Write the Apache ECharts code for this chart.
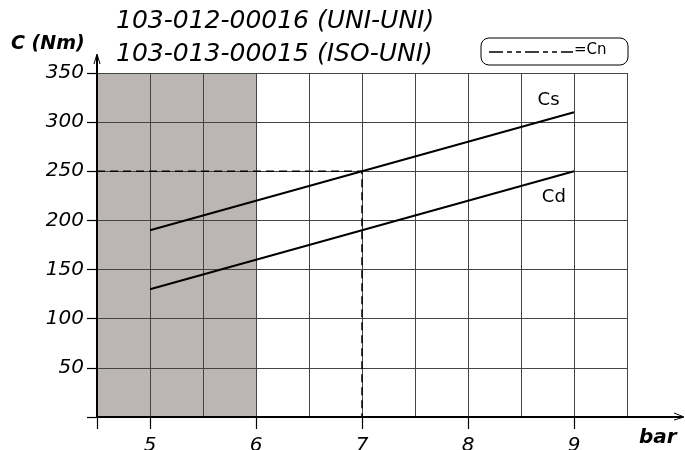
<!DOCTYPE html>
<html><head><meta charset="utf-8">
<script src="https://cdn.jsdelivr.net/npm/echarts@6/dist/echarts.min.js"></script>
<style>html,body{margin:0;padding:0;background:#fff}#c{width:685px;height:450px}</style>
</head><body><div id="c"></div>
<script>
const titleLines = ['103-012-00016 (UNI-UNI)', '103-013-00015 (ISO-UNI)'];
const pressure = [5, 9];
const cs = [190, 310];
const cd = [130, 250];
const cnLine = [[4.5, 250], [7, 250], [7, 0]];
const shadeRange = [4.5, 6];
const shadeTop = 350;
const xTickLabels = [5, 6, 7, 8, 9];
const yTickLabels = [50, 100, 150, 200, 250, 300, 350];
const csLabelAt = [8.76, 322];
const cdLabelAt = [8.81, 224];

const FONT = '"DejaVu Sans", "Liberation Sans", sans-serif';
const chart = echarts.init(document.getElementById('c'));
const opt = {
  animation: false,
  backgroundColor: '#fff',
  grid: {left: 97, right: 58, top: 73, bottom: 33, outerBoundsMode: 'none', containLabel: false},
  xAxis: [{
    type: 'value', min: 4.5, max: 9.5, interval: 0.5, zlevel: 1, z: 5, position: 'bottom',
    axisLine: {show: true, onZero: false, lineStyle: {color: '#000', width: 2}},
    axisTick: {show: false},
    axisLabel: {show: false},
    splitLine: {show: true, lineStyle: {color: '#444', width: 1}}
  }, {
    type: 'value', min: 4.5, max: 9.5, interval: 0.5, zlevel: 1, z: 5, position: 'bottom', offset: 0,
    axisLine: {show: false, onZero: false},
    axisTick: {show: true, length: 12, customValues: [4.5].concat(xTickLabels), lineStyle: {color: '#000', width: 1.2}},
    axisLabel: {customValues: xTickLabels, fontFamily: FONT, fontStyle: 'italic', fontSize: 20, color: '#000', margin: 19},
    splitLine: {show: false}
  }],
  yAxis: {
    type: 'value', min: 0, max: 350, interval: 50, zlevel: 1, z: 5,
    axisLine: {show: true, lineStyle: {color: '#000', width: 2}},
    axisTick: {show: true, length: 10, lineStyle: {color: '#000', width: 1.2}},
    axisLabel: {fontFamily: FONT, fontStyle: 'italic', fontSize: 20, color: '#000', margin: 13,
      formatter: v => yTickLabels.indexOf(v) >= 0 ? String(v) : ''},
    splitLine: {show: true, lineStyle: {color: '#444', width: 1}}
  },
  series: [
    {type: 'custom', zlevel: 0, z: 1, silent: true, data: [[shadeRange[0], shadeRange[1], shadeTop]],
      renderItem: (params, api) => {
        const a = api.coord([api.value(0), api.value(2)]);
        const b = api.coord([api.value(1), 0]);
        return {type: 'rect', shape: {x: a[0], y: a[1], width: b[0] - a[0], height: b[1] - a[1]},
          style: {fill: '#bbb6b3'}};
      }},
    {type: 'line', symbol: 'none', zlevel: 1, z: 6, lineStyle: {color: '#000', width: 1.5, type: [8, 5]},
      data: cnLine},
    {type: 'line', symbol: 'none', zlevel: 1, z: 6, lineStyle: {color: '#000', width: 2},
      data: pressure.map((p, i) => [p, cs[i]]),
      markPoint: {symbol: 'circle', symbolSize: 0, itemStyle: {color: 'transparent'},
        label: {show: true, position: 'inside', formatter: 'Cs', fontFamily: FONT, fontSize: 18, color: '#000'},
        data: [{coord: csLabelAt}]}},
    {type: 'line', symbol: 'none', zlevel: 1, z: 6, lineStyle: {color: '#000', width: 2},
      data: pressure.map((p, i) => [p, cd[i]]),
      markPoint: {symbol: 'circle', symbolSize: 0, itemStyle: {color: 'transparent'},
        label: {show: true, position: 'inside', formatter: 'Cd', fontFamily: FONT, fontSize: 18, color: '#000'},
        data: [{coord: cdLabelAt}]}}
  ]
};
chart.setOption(opt);

const pO = chart.convertToPixel({gridIndex: 0}, [4.5, 0]);
const pTop = chart.convertToPixel({gridIndex: 0}, [4.5, 350]);
const pRight = chart.convertToPixel({gridIndex: 0}, [9.5, 0]);
chart.setOption({graphic: [
  {type: 'line', shape: {x1: pO[0], y1: pTop[1], x2: pO[0], y2: pTop[1] - 17}, style: {stroke: '#000', lineWidth: 2}},
  {type: 'polyline', shape: {points: [[pO[0] - 3, pTop[1] - 9], [pO[0], pTop[1] - 19], [pO[0] + 3, pTop[1] - 9]]}, style: {stroke: '#000', fill: null, lineWidth: 1}},
  {type: 'line', shape: {x1: pRight[0], y1: pO[1], x2: 683, y2: pO[1]}, style: {stroke: '#000', lineWidth: 2}},
  {type: 'polyline', shape: {points: [[674, pO[1] - 4], [684, pO[1]], [674, pO[1] + 3]]}, style: {stroke: '#000', fill: null, lineWidth: 1}},
  {type: 'text', left: 116, top: 9, style: {text: titleLines[0], font: 'italic 25px ' + FONT, fill: '#000'}},
  {type: 'text', left: 116, top: 42, style: {text: titleLines[1], font: 'italic 25px ' + FONT, fill: '#000'}},
  {type: 'text', left: 11, top: 35, style: {text: 'C (Nm)', font: 'italic bold 19px ' + FONT, fill: '#000'}},
  {type: 'text', left: 639, top: 428, style: {text: 'bar', font: 'italic bold 20px ' + FONT, fill: '#000'}},
  {type: 'rect', shape: {x: 481, y: 38, width: 147, height: 27, r: 8}, style: {stroke: '#000', fill: '#fff', lineWidth: 1}},
  {type: 'line', shape: {x1: 489, y1: 52, x2: 573, y2: 52}, style: {stroke: '#000', lineWidth: 1.5, lineDash: [14, 4, 5, 4, 5, 4]}},
  {type: 'text', left: 574, top: 43, style: {text: '=Cn', font: '15px ' + FONT, fill: '#000'}}
]});
</script></body></html>
